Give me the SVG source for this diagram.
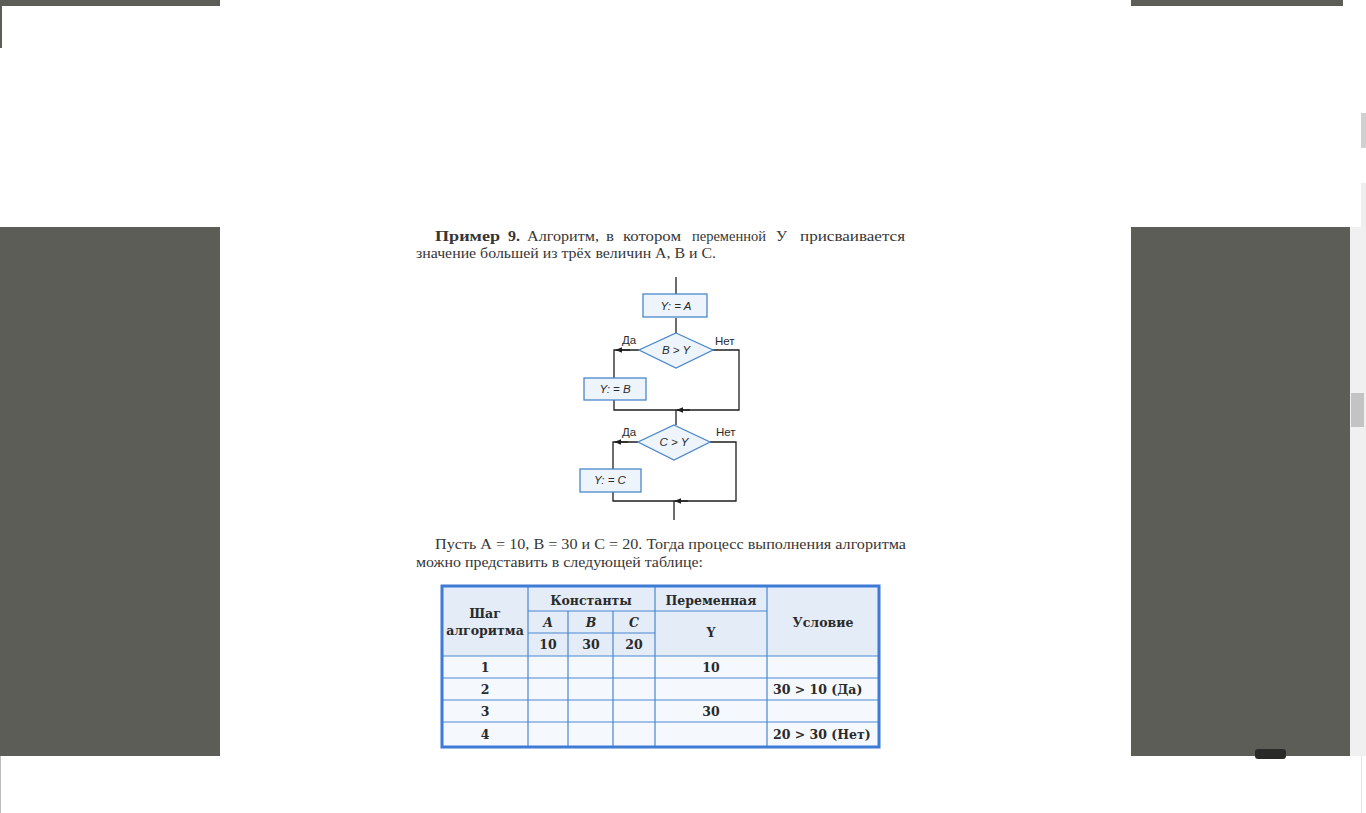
<svg xmlns="http://www.w3.org/2000/svg" width="1366" height="813" viewBox="0 0 1366 813">
<defs>
<style>
.panel{fill:#5b5d56}
.para{font-family:"Liberation Serif",serif;font-size:15px;fill:#363636}
.fl{stroke:#1e1e1e;stroke-width:1.3;fill:none}
.box{fill:#eef4fc;stroke:#4a87c9;stroke-width:1.3}
.bt{font-family:"Liberation Sans",Arial,sans-serif;font-size:11.5px;font-style:italic;fill:#2a2a2a;text-anchor:middle}
.lbl{font-family:"Liberation Sans",Arial,sans-serif;font-size:11.5px;fill:#2a2a2a}
.tb{font-family:"DejaVu Serif",serif;font-size:12.5px;font-weight:bold;fill:#2a2a2a;text-anchor:middle}
.ts{font-family:"DejaVu Serif",serif;font-size:12.5px;font-weight:bold;fill:#2a2a2a;text-anchor:start}
.tl{stroke:#4a87d2;stroke-width:1.2;fill:none}
</style>
<marker id="ah" viewBox="0 0 10 10" refX="9" refY="5" markerWidth="7" markerHeight="7" markerUnits="userSpaceOnUse" orient="auto">
<path d="M0,1 L10,5 L0,9 z" fill="#1e1e1e"/>
</marker>
</defs>
<rect width="1366" height="813" fill="#ffffff"/>
<!-- page chrome -->
<g id="chrome">
<rect class="panel" x="0" y="0" width="220" height="6"/>
<rect class="panel" x="0" y="6" width="2" height="42"/>
<rect class="panel" x="1131" y="0" width="212" height="6"/>
<rect class="panel" x="0" y="227" width="220" height="529"/>
<rect class="panel" x="1131" y="227" width="219" height="529"/>
<rect x="1361" y="113" width="5" height="35" fill="#d0d0d0"/>
<rect x="1361" y="183" width="5" height="44" fill="#eeeeee"/>
<rect x="1350" y="227" width="16" height="529" fill="#f0f0f0"/>
<rect x="1351" y="393" width="13" height="34" fill="#c3c3c3"/>
<rect x="1255" y="749" width="31" height="10" rx="3" fill="#2a2a28"/>
<rect x="0" y="756" width="1" height="57" fill="#bdbdbd"/>
<rect x="1361" y="756" width="1" height="57" fill="#e2e2e2"/>
</g>
<!-- paragraph 1 -->
<g id="para1">
<text class="para" x="435" y="241" font-weight="bold" textLength="65" lengthAdjust="spacingAndGlyphs">Пример</text>
<text class="para" x="508" y="241" font-weight="bold" textLength="12" lengthAdjust="spacingAndGlyphs">9.</text>
<text class="para" x="527" y="241" textLength="72" lengthAdjust="spacingAndGlyphs">Алгоритм,</text>
<text class="para" x="606" y="241" textLength="8" lengthAdjust="spacingAndGlyphs">в</text>
<text class="para" x="623" y="241" textLength="58" lengthAdjust="spacingAndGlyphs">котором</text>
<text class="para" x="692" y="241" textLength="74" lengthAdjust="spacingAndGlyphs">переменной</text>
<text class="para" x="776" y="241" textLength="11" lengthAdjust="spacingAndGlyphs">У</text>
<text class="para" x="800" y="241" textLength="105" lengthAdjust="spacingAndGlyphs">присваивается</text>
<text class="para" x="416" y="258" textLength="300" lengthAdjust="spacingAndGlyphs">значение большей из трёх величин А, В и С.</text>
</g>
<!-- flowchart connectors -->
<g id="connectors">
<line class="fl" x1="676" y1="277" x2="676" y2="294"/>
<line class="fl" x1="676" y1="318" x2="676" y2="333"/>
<polyline class="fl" points="639,350 614,350 614,378" />
<line class="fl" x1="630" y1="350" x2="616" y2="350" marker-end="url(#ah)"/>
<polyline class="fl" points="712,350 739,350 739,410 614,410 614,400"/>
<line class="fl" x1="690" y1="410" x2="677" y2="410" marker-end="url(#ah)"/>
<line class="fl" x1="676" y1="410" x2="676" y2="425"/>
<polyline class="fl" points="638,442 613,442 613,469"/>
<line class="fl" x1="628" y1="442" x2="615" y2="442" marker-end="url(#ah)"/>
<polyline class="fl" points="710,442 736,442 736,501 613,501 613,492"/>
<line class="fl" x1="688" y1="501" x2="675" y2="501" marker-end="url(#ah)"/>
<line class="fl" x1="674" y1="501" x2="674" y2="520"/>
</g>
<g id="n_ya">
<rect class="box" x="643" y="294" width="64" height="23"/>
<text class="bt" x="676" y="310">Y: = A</text>
</g>
<g id="n_d1">
<polygon class="box" points="676,333 713,350 676,368 639,350"/>
<text class="bt" x="676" y="354">B &gt; Y</text>
<text class="lbl" x="622" y="344">Да</text>
<text class="lbl" x="715" y="345">Нет</text>
</g>
<g id="n_yb">
<rect class="box" x="584" y="378" width="62" height="22"/>
<text class="bt" x="615" y="393">Y: = B</text>
</g>
<g id="n_d2">
<polygon class="box" points="674,425 710,442 674,460 638,442"/>
<text class="bt" x="674" y="446">C &gt; Y</text>
<text class="lbl" x="622" y="436">Да</text>
<text class="lbl" x="716" y="436">Нет</text>
</g>
<g id="n_yc">
<rect class="box" x="580" y="469" width="61" height="23"/>
<text class="bt" x="610" y="484">Y: = C</text>
</g>
<!-- paragraph 2 -->
<g id="para2">
<text class="para" x="435" y="549" textLength="471" lengthAdjust="spacingAndGlyphs">Пусть А = 10, В = 30 и С = 20. Тогда процесс выполнения алгоритма</text>
<text class="para" x="416" y="567" textLength="287" lengthAdjust="spacingAndGlyphs">можно представить в следующей таблице:</text>
</g>
<!-- table -->
<g id="table">
<rect x="441" y="585" width="439" height="71" fill="#e4ecf7"/>
<rect x="441" y="656" width="439" height="92" fill="#f5f8fc"/>
<g class="tl">
<line x1="528" y1="585" x2="528" y2="748"/>
<line x1="568" y1="611" x2="568" y2="748"/>
<line x1="613" y1="611" x2="613" y2="748"/>
<line x1="655" y1="585" x2="655" y2="748"/>
<line x1="767" y1="585" x2="767" y2="748"/>
<line x1="528" y1="611" x2="767" y2="611"/>
<line x1="528" y1="633" x2="655" y2="633"/>
<line x1="441" y1="656" x2="880" y2="656"/>
<line x1="441" y1="678" x2="880" y2="678"/>
<line x1="441" y1="700" x2="880" y2="700"/>
<line x1="441" y1="722" x2="880" y2="722"/>
</g>
<rect x="442" y="586" width="437" height="161" fill="none" stroke="#3d7bd6" stroke-width="3"/>
<text class="tb" x="485" y="618">Шаг</text>
<text class="tb" x="485" y="635">алгоритма</text>
<text class="tb" x="591" y="605">Константы</text>
<text class="tb" x="548" y="627" font-style="italic">A</text>
<text class="tb" x="591" y="627" font-style="italic">B</text>
<text class="tb" x="634" y="627" font-style="italic">C</text>
<text class="tb" x="548" y="649">10</text>
<text class="tb" x="591" y="649">30</text>
<text class="tb" x="634" y="649">20</text>
<text class="tb" x="711" y="605">Переменная</text>
<text class="tb" x="711" y="637">Y</text>
<text class="tb" x="823" y="627">Условие</text>
<text class="tb" x="485" y="672">1</text>
<text class="tb" x="711" y="672">10</text>
<text class="tb" x="485" y="694">2</text>
<text class="ts" x="773" y="694">30 &gt; 10 (Да)</text>
<text class="tb" x="485" y="716">3</text>
<text class="tb" x="711" y="716">30</text>
<text class="tb" x="485" y="739">4</text>
<text class="ts" x="773" y="739">20 &gt; 30 (Нет)</text>
</g>
</svg>
